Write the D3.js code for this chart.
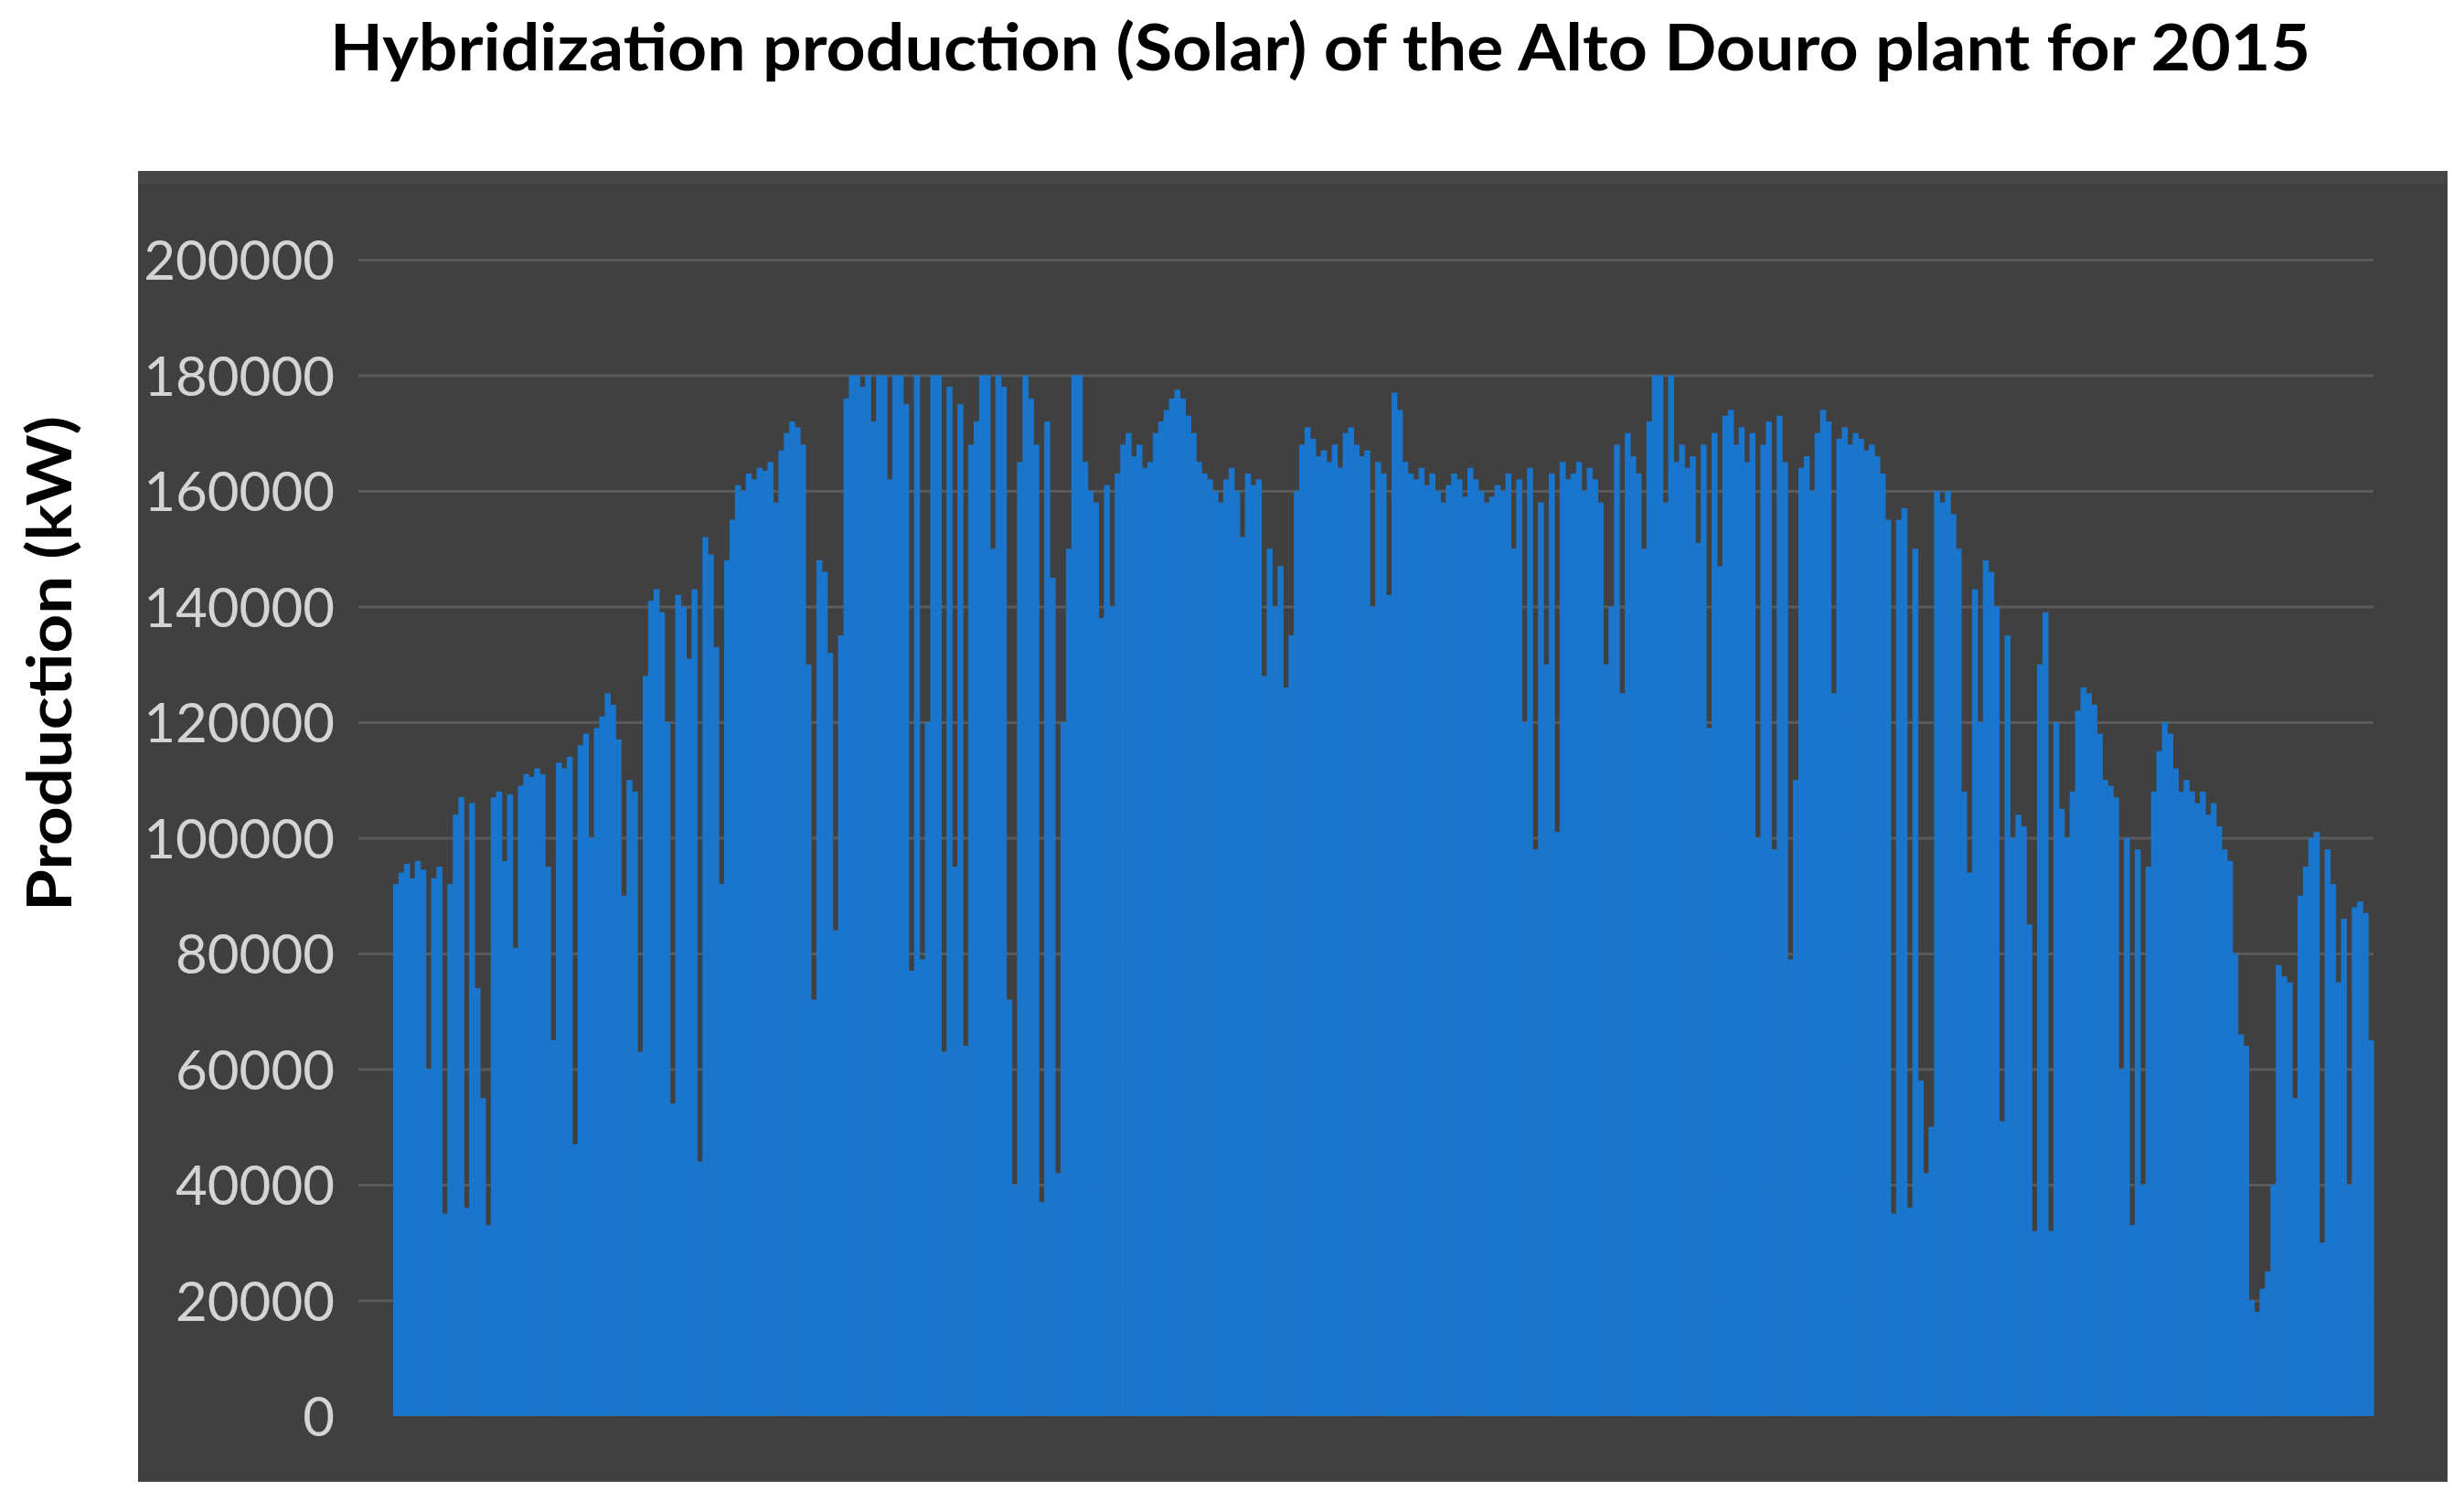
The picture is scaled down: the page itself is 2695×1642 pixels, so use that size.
<!DOCTYPE html>
<html>
<head>
<meta charset="utf-8">
<script src="https://cdn.jsdelivr.net/npm/d3@7"></script>
<style>
  html, body { margin: 0; padding: 0; background: #ffffff; }
  svg { display: block; }
</style>
</head>
<body>
<svg id="chart" width="2695" height="1642"></svg>
<script>
// ---- data (daily solar hybridization production, kW, 2015) ----
const title = "Hybridization production (Solar) of the Alto Douro plant for 2015";
const yLabel = "Production (kW)";
const yTicks = [0, 20000, 40000, 60000, 80000, 100000, 120000, 140000, 160000, 180000, 200000];

const production = [
  92000, 94000, 95500, 93000, 96000, 94500, 60000, 93000, 95000, 35000,
  92000, 104000, 107000, 36000, 106000, 74000, 55000, 33000, 107000, 108000,
  96000, 107500, 81000, 109000, 111000, 110500, 112000, 111000, 95000, 65000,
  113000, 112000, 114000, 47000, 116000, 118000, 100000, 119000, 121000, 125000,
  123000, 117000, 90000, 110000, 108000, 63000, 128000, 141000, 143000, 139000,
  120000, 54000, 142000, 140000, 131000, 143000, 44000, 152000, 149000, 133000,
  92000, 148000, 155000, 161000, 160000, 163000, 162000, 164000, 163500, 165000,
  158000, 167000, 170000, 172000, 171000, 168000, 130000, 72000, 148000, 146000,
  132000, 84000, 135000, 176000, 180000, 180000, 178000, 180000, 172000, 180000,
  180000, 162000, 180000, 180000, 175000, 77000, 180000, 79000, 120000, 180000,
  180000, 63000, 178000, 95000, 175000, 64000, 168000, 172000, 180000, 180000,
  150000, 180000, 178000, 72000, 40000, 165000, 180000, 176000, 168000, 37000,
  172000, 145000, 42000, 120000, 150000, 180000, 180000, 165000, 160000, 158000,
  138000, 161000, 140000, 163000, 168000, 170000, 166000, 168000, 164000, 165000,
  170000, 172000, 174000, 176000, 177500, 176000, 173000, 170000, 165000, 163000,
  162000, 160000, 158000, 162000, 164000, 160000, 152000, 163000, 161000, 162000,
  128000, 150000, 140000, 147000, 126000, 135000, 160000, 168000, 171000, 169000,
  166000, 167000, 165000, 168000, 164000, 170000, 171000, 168000, 166000, 167000,
  140000, 165000, 163000, 142000, 177000, 174000, 165000, 163000, 162000, 164000,
  161000, 163000, 160000, 158000, 161000, 163000, 162000, 159000, 164000, 162000,
  160000, 158000, 159000, 161000, 160000, 163000, 150000, 162000, 120000, 164000,
  98000, 158000, 130000, 163000, 101000, 165000, 162000, 163000, 165000, 160000,
  164000, 162000, 158000, 130000, 140000, 168000, 125000, 170000, 166000, 163000,
  150000, 172000, 180000, 180000, 158000, 180000, 165000, 168000, 164000, 166000,
  151000, 168000, 119000, 170000, 147000, 173000, 174000, 168000, 171000, 165000,
  170000, 100000, 168000, 172000, 98000, 173000, 165000, 79000, 110000, 164000,
  166000, 160000, 170000, 174000, 172000, 125000, 169000, 171000, 168000, 170000,
  169000, 167000, 168000, 166000, 163000, 155000, 35000, 155000, 157000, 36000,
  150000, 58000, 42000, 50000, 160000, 158000, 160000, 156000, 150000, 108000,
  94000, 143000, 120000, 148000, 146000, 140000, 51000, 135000, 100000, 104000,
  102000, 85000, 32000, 130000, 139000, 32000, 120000, 105000, 100000, 108000,
  122000, 126000, 125000, 123000, 118000, 110000, 109000, 107000, 60000, 100000,
  33000, 98000, 40000, 95000, 108000, 115000, 120000, 118000, 112000, 108000,
  110000, 108000, 106000, 108000, 104000, 106000, 102000, 98000, 96000, 80000,
  66000, 64000, 20000, 18000, 22000, 25000, 40000, 78000, 76000, 75000,
  55000, 90000, 95000, 100000, 101000, 30000, 98000, 92000, 75000, 86000,
  40000, 88000, 89000, 87000, 65000
];
const days = production.map((_, i) => i + 1);

// ---- layout ----
const svg = d3.select("#chart");
const W = 2695, H = 1642;
const panel = { x: 151, y: 187, w: 2526, h: 1434 };
const plot = { left: 430, right: 2596, top: 284, bottom: 1549, gridLeft: 392 };

svg.append("rect").attr("x", 0).attr("y", 0).attr("width", W).attr("height", H).attr("fill", "#ffffff");
svg.append("rect")
  .attr("x", panel.x).attr("y", panel.y).attr("width", panel.w).attr("height", panel.h)
  .attr("fill", "#404040");
svg.append("rect")
  .attr("x", panel.x).attr("y", panel.y).attr("width", panel.w).attr("height", 14)
  .attr("fill", "#474747");

const x = d3.scaleBand().domain(days).range([plot.left, plot.right]).padding(0);
const y = d3.scaleLinear().domain([0, 200000]).range([plot.bottom, plot.top]);

// gridlines
const grid = svg.append("g")
  .attr("transform", `translate(${plot.gridLeft},0)`)
  .call(d3.axisLeft(y).tickValues(yTicks.filter(t => t > 0))
        .tickSize(-(plot.right - plot.gridLeft)).tickFormat(""));
grid.select(".domain").remove();
grid.selectAll("line").attr("stroke", "#5a5a5a").attr("stroke-width", 3);

// bars
svg.append("g")
  .selectAll("rect")
  .data(production)
  .join("rect")
  .attr("x", (d, i) => x(days[i]))
  .attr("y", d => y(d))
  .attr("width", x.bandwidth() + 0.6)
  .attr("height", d => y(0) - y(d))
  .attr("fill", "#1a75cc");

// y-axis tick labels
const yAxis = svg.append("g")
  .attr("transform", `translate(366,0)`)
  .call(d3.axisLeft(y).tickValues(yTicks).tickSize(0).tickPadding(0).tickFormat(d3.format("d")));
yAxis.select(".domain").remove();
yAxis.selectAll("text")
  .attr("fill", "#d4d4d4")
  .attr("font-family", "Lato, 'Open Sans', sans-serif")
  .attr("font-size", 60)
  .attr("dy", "0.36em");

// y-axis title
svg.append("text")
  .attr("transform", "translate(78,726) rotate(-90)")
  .attr("text-anchor", "middle")
  .attr("font-family", "Lato, 'Open Sans', sans-serif")
  .attr("font-weight", "bold")
  .attr("font-size", 66)
  .attr("textLength", 542)
  .attr("lengthAdjust", "spacingAndGlyphs")
  .attr("fill", "#000000")
  .text(yLabel);

// chart title
svg.append("text")
  .attr("x", 1444).attr("y", 77)
  .attr("text-anchor", "middle")
  .attr("font-family", "Lato, 'Open Sans', sans-serif")
  .attr("font-weight", "bold")
  .attr("font-size", 70)
  .attr("textLength", 2166)
  .attr("lengthAdjust", "spacingAndGlyphs")
  .attr("fill", "#000000")
  .text(title);
</script>
</body>
</html>
